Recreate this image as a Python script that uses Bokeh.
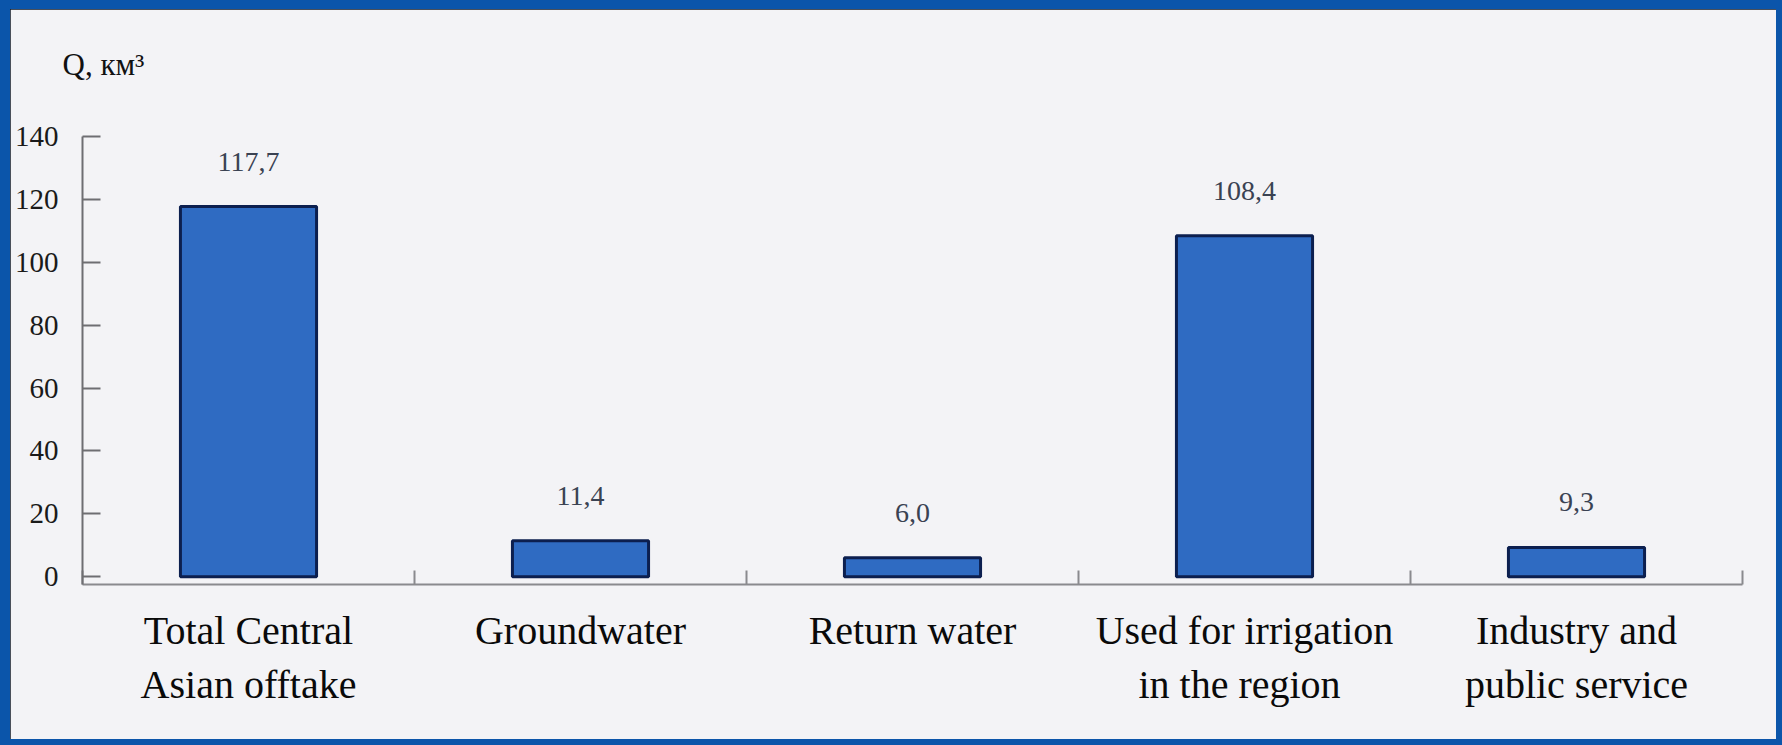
from bokeh.plotting import figure
from bokeh.models import Range1d, FixedTicker, GlobalInlineStyleSheet
from bokeh.embed import file_html
from bokeh.resources import INLINE
from bokeh.core.properties import value

# ---- data ----
categories = ["Total Central\nAsian offtake", "Groundwater", "Return water",
              "Used for irrigation\nin  the region", "Industry and\npublic service"]
values = [117.7, 11.4, 6.0, 108.4, 9.3]
value_labels = ["117,7", "11,4", "6,0", "108,4", "9,3"]
y_ticks = [0, 20, 40, 60, 80, 100, 120, 140]
unit_label = "Q, км³"

xs = [i + 0.5 for i in range(len(categories))]
separators = list(range(len(categories) + 1))

SERIF = "Liberation Serif"
PANEL = "#f3f3f6"
FRAME_BLUE = "#0b55aa"

p = figure(width=1766, height=730, output_backend="svg", toolbar_location=None,
           x_range=Range1d(0, len(categories)), y_range=Range1d(-2.5, 140),
           min_border_left=72, min_border_top=127, min_border_bottom=155,
           min_border_right=34)

p.background_fill_color = PANEL
p.border_fill_color = PANEL
p.outline_line_color = None
p.grid.visible = False
p.stylesheets = [GlobalInlineStyleSheet(
    css=f"html, body {{ background: {FRAME_BLUE}; margin: 0; padding: 0; }}")]
p.styles = {"margin": "9px 0 0 10px", "background-color": PANEL,
            "outline": "2px solid #101824", "outline-offset": "-2px"}

# unit label as title; the trailing blank line lifts it above the frame
p.title.text = unit_label + "\n "
p.title.align = "left"
p.title.vertical_align = "top"
p.title.offset = -20
p.title.standoff = 36
p.title.text_font = SERIF
p.title.text_font_size = "31px"
p.title.text_font_style = "normal"
p.title.text_color = "#111111"

p.vbar(x=xs, top=values, bottom=0, width=0.41,
       fill_color="#2f6bc2", line_color="#0c1f4f", line_width=3)

p.text(x=xs, y=values, text=value_labels, y_offset=-45,
       text_align="center", text_baseline="middle",
       text_font=value(SERIF), text_font_size="28px", text_color="#3a4252")

# y axis
ya = p.yaxis[0]
ya.ticker = FixedTicker(ticks=y_ticks)
ya.major_tick_in = 18
ya.major_tick_out = 0
ya.minor_tick_line_color = None
ya.axis_line_color = "#6e6e72"
ya.axis_line_width = 2
ya.major_tick_line_color = "#6e6e72"
ya.major_tick_line_width = 2
ya.major_label_standoff = 24
ya.major_label_text_font = SERIF
ya.major_label_text_font_size = "29px"
ya.major_label_text_color = "#1a1a1a"

# x axis
xa = p.xaxis[0]
xa.ticker = FixedTicker(ticks=xs, minor_ticks=separators)
xa.major_label_overrides = {x: c for x, c in zip(xs, categories)}
xa.major_tick_line_color = None
xa.minor_tick_in = 14
xa.minor_tick_out = 0
xa.minor_tick_line_color = "#8a8a8e"
xa.minor_tick_line_width = 2
xa.axis_line_color = "#8a8a8e"
xa.axis_line_width = 2
xa.major_label_standoff = 17
xa.major_label_text_font = SERIF
xa.major_label_text_font_size = "40px"
xa.major_label_text_color = "#0a0a0a"

open("out.html", "w").write(file_html(p, INLINE))
